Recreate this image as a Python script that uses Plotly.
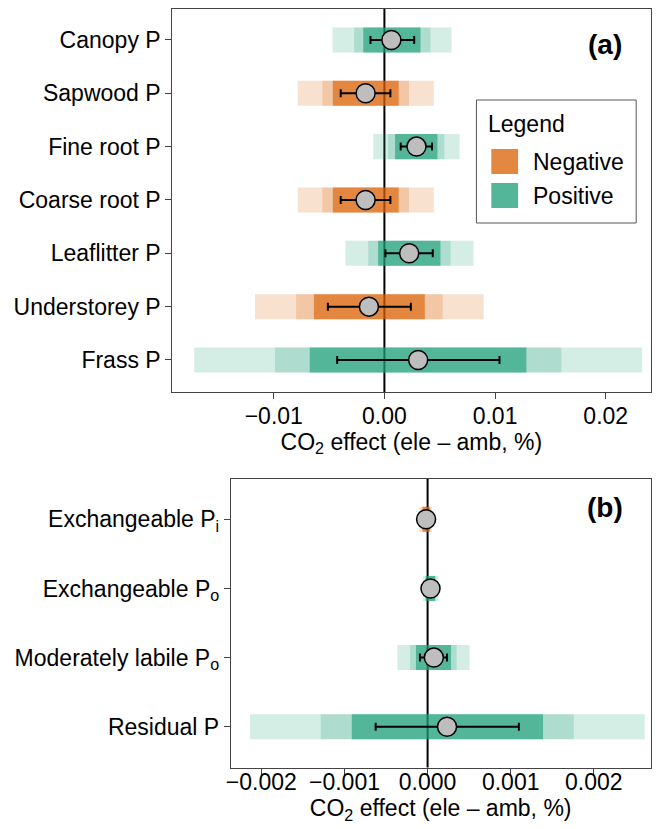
import plotly.graph_objects as go

# ---- Panel (a): plant and litter P pools ----
labels_a = ["Canopy P", "Sapwood P", "Fine root P", "Coarse root P",
            "Leaflitter P", "Understorey P", "Frass P"]
point_a = [0.00063, -0.0017, 0.0029, -0.0017, 0.00224, -0.0014, 0.00305]
err_lo_a = [-0.00126, -0.00395, 0.00147, -0.00395, 0.00009, -0.00511, -0.00427]
err_hi_a = [0.00269, 0.00054, 0.0043, 0.00054, 0.00437, 0.00239, 0.0104]
inner_lo_a = [-0.00191, -0.00466, 0.00096, -0.00466, -0.00057, -0.00637, -0.00675]
inner_hi_a = [0.00326, 0.00129, 0.00479, 0.00129, 0.00506, 0.00365, 0.01283]
mid_lo_a = [-0.00274, -0.00561, 0.00033, -0.00561, -0.00146, -0.00798, -0.00989]
mid_hi_a = [0.00416, 0.00222, 0.00542, 0.00222, 0.00598, 0.00526, 0.016]
outer_lo_a = [-0.00469, -0.00783, -0.00101, -0.00783, -0.00352, -0.01169, -0.01718]
outer_hi_a = [0.00607, 0.00446, 0.00679, 0.00446, 0.00805, 0.00897, 0.02329]
xticks_a = [-0.01, 0.0, 0.01, 0.02]
xticktext_a = ["\u22120.01", "0.00", "0.01", "0.02"]

# ---- Panel (b): soil P fractions ----
labels_b = ["Exchangeable P<sub>i</sub>", "Exchangeable P<sub>o</sub>",
            "Moderately labile P<sub>o</sub>", "Residual P"]
point_b = [-0.000018, 0.000035, 0.000075, 0.000234]
err_lo_b = [-0.00004, 0.000005, -0.000092, -0.000625]
err_hi_b = [0.00001, 0.00007, 0.000234, 0.001098]
inner_lo_b = [-0.00006, -0.00002, -0.00014, -0.000912]
inner_hi_b = [0.000025, 0.00009, 0.000282, 0.001389]
mid_lo_b = [-0.00007, -0.00003, -0.000211, -0.001286]
mid_hi_b = [0.000035, 0.0001, 0.00035, 0.001759]
outer_lo_b = [-0.000097, -0.000057, -0.000363, -0.002137]
outer_hi_b = [0.00005, 0.00013, 0.000505, 0.002612]
xticks_b = [-0.002, -0.001, 0.0, 0.001, 0.002]
xticktext_b = ["\u22120.002", "\u22120.001", "0.000", "0.001", "0.002"]

NEG_RGB = (217, 95, 2)
POS_RGB = (27, 158, 119)
FONT = "Liberation Sans, Arial, Helvetica, sans-serif"
FS = 23
W, H = 662, 829


def rgba(rgb, a):
    return "rgba(%d,%d,%d,%.3f)" % (rgb[0], rgb[1], rgb[2], a)


def px(x):
    return x / W


def py(y):
    return 1 - y / H


fig = go.Figure()


def add_panel(xa, ya, point, elo, ehi, ilo, ihi, mlo, mhi, olo, ohi, bar_w):
    ys = list(range(len(point)))
    sign_rgb = [NEG_RGB if p < 0 else POS_RGB for p in point]
    # three overlapping translucent interval bands: outer, middle, inner
    for lo, hi, a in ((olo, ohi, 0.19), (mlo, mhi, 0.20), (ilo, ihi, 0.615)):
        fig.add_trace(go.Bar(
            orientation="h", y=ys, base=lo,
            x=[h - l for l, h in zip(lo, hi)],
            width=bar_w,
            marker=dict(color=[rgba(c, a) for c in sign_rgb], line_width=0),
            xaxis=xa, yaxis=ya, showlegend=False, hoverinfo="skip"))
    fig.add_trace(go.Scatter(
        x=point, y=ys, mode="markers",
        marker=dict(size=19, color="#BEBEBE", line=dict(color="black", width=1.5)),
        error_x=dict(type="data", symmetric=False,
                     array=[h - p for p, h in zip(point, ehi)],
                     arrayminus=[p - l for p, l in zip(point, elo)],
                     color="black", thickness=2, width=4),
        xaxis=xa, yaxis=ya, showlegend=False))


add_panel("x", "y", point_a, err_lo_a, err_hi_a, inner_lo_a, inner_hi_a,
          mid_lo_a, mid_hi_a, outer_lo_a, outer_hi_a, 0.469)
add_panel("x2", "y2", point_b, err_lo_b, err_hi_b, inner_lo_b, inner_hi_b,
          mid_lo_b, mid_hi_b, outer_lo_b, outer_hi_b, 0.362)

axis_common = dict(showline=True, mirror=True, linecolor="#444", linewidth=1,
                   ticks="outside", ticklen=6, tickcolor="#444", showgrid=False,
                   zeroline=False, tickfont=dict(family=FONT, size=FS, color="black"))


def xtitle(standoff):
    return dict(text="CO<sub>2</sub> effect (ele \u2013 amb, %)",
                font=dict(family=FONT, size=FS, color="black"), standoff=standoff)


fig.update_layout(
    width=W, height=H, margin=dict(l=0, r=0, t=0, b=0),
    paper_bgcolor="white", plot_bgcolor="white", barmode="overlay",
    showlegend=False,
    xaxis=dict(domain=[px(168.5), px(650.5)], range=[-0.019175, 0.024054],
               tickvals=xticks_a, ticktext=xticktext_a, anchor="y",
               ticklabelstandoff=-3, title=xtitle(2), **axis_common),
    yaxis=dict(domain=[py(392), py(9)], range=[6.6, -0.58],
               tickvals=list(range(len(labels_a))), ticktext=labels_a,
               anchor="x", **axis_common),
    xaxis2=dict(domain=[px(227.5), px(650.5)], range=[-0.002368, 0.002683],
                tickvals=xticks_b, ticktext=xticktext_b, anchor="y2",
                ticklabelstandoff=-12, title=xtitle(0), **axis_common),
    yaxis2=dict(domain=[py(767.5), py(479)], range=[3.59, -0.583],
                tickvals=list(range(len(labels_b))), ticktext=labels_b,
                anchor="x2", **axis_common),
)

# zero reference lines, beneath the bands
for xr, yr in (("x", "y domain"), ("x2", "y2 domain")):
    fig.add_shape(type="line", xref=xr, yref=yr, x0=0, x1=0, y0=0, y1=1,
                  line=dict(color="black", width=2), layer="below")

# panel tags
for tag, ty in (("(a)", 44), ("(b)", 507)):
    fig.add_annotation(text="<b>%s</b>" % tag, xref="paper", yref="paper",
                       x=px(605), y=py(ty), xanchor="center", yanchor="middle",
                       showarrow=False,
                       font=dict(family=FONT, size=28, color="black"))

# legend box
fig.add_shape(type="rect", xref="paper", yref="paper",
              x0=px(475), x1=px(636), y0=py(223), y1=py(100),
              line=dict(color="#555", width=1), fillcolor="white", layer="above")
fig.add_annotation(text="Legend", xref="paper", yref="paper", x=px(485), y=py(124),
                   xanchor="left", yanchor="middle", showarrow=False,
                   font=dict(family=FONT, size=FS, color="black"))
for name, rgb, top in (("Negative", NEG_RGB, 149), ("Positive", POS_RGB, 183)):
    fig.add_shape(type="rect", xref="paper", yref="paper",
                  x0=px(490), x1=px(517), y0=py(top + 25), y1=py(top),
                  line_width=0, fillcolor=rgba(rgb, 0.75), layer="above")
    fig.add_annotation(text=name, xref="paper", yref="paper", x=px(530),
                       y=py(top + 13), xanchor="left", yanchor="middle",
                       showarrow=False,
                       font=dict(family=FONT, size=FS, color="black"))

fig.write_html("out.html")
